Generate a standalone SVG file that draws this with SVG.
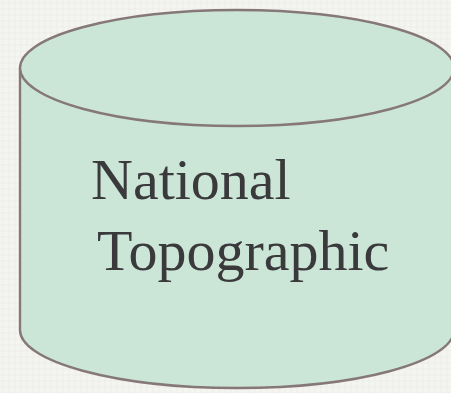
<svg xmlns="http://www.w3.org/2000/svg" width="451" height="393" viewBox="0 0 451 393">
<style>
.shape{fill:#cbe6d6;stroke:#867878;stroke-width:2.4}
.lbl{font-family:"Liberation Serif","Times New Roman",serif;font-size:58px;fill:#3a3a3d}
</style>
<defs>
<pattern id="tex" width="6" height="6" patternUnits="userSpaceOnUse">
<rect width="6" height="6" fill="#f4f4f1"/>
<path d="M0 3H6M3 0V6" stroke="#e9e9e6" stroke-width="0.6"/>
</pattern>
</defs>
<rect width="451" height="393" fill="url(#tex)"/>
<g id="node-national-topographic">
<path class="shape" d="M20 68 V330 A217 58 0 0 0 454 330 V68"/>
<ellipse class="shape" cx="237" cy="68" rx="217" ry="58"/>
<text class="lbl" x="91" y="199">National</text>
<text class="lbl" x="97" y="270">Topographic</text>
</g>
<g id="connectors"/>
</svg>
